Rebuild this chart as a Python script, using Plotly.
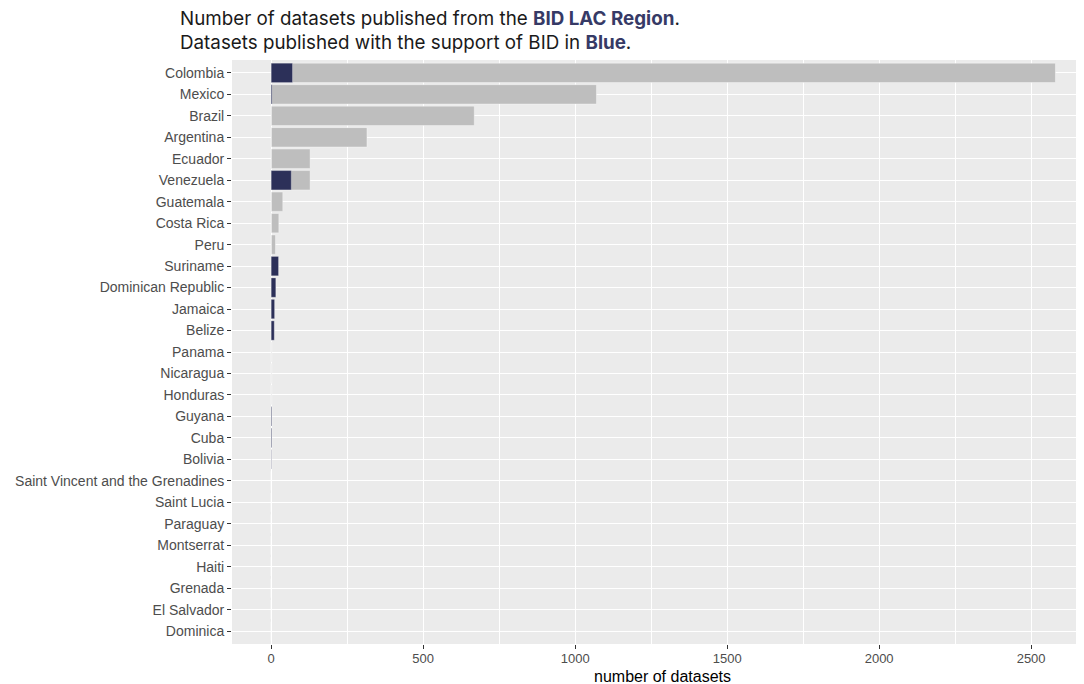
import plotly.graph_objects as go

countries = ["Colombia", "Mexico", "Brazil", "Argentina", "Ecuador", "Venezuela",
             "Guatemala", "Costa Rica", "Peru", "Suriname", "Dominican Republic",
             "Jamaica", "Belize", "Panama", "Nicaragua", "Honduras", "Guyana", "Cuba",
             "Bolivia", "Saint Vincent and the Grenadines", "Saint Lucia", "Paraguay",
             "Montserrat", "Haiti", "Grenada", "El Salvador", "Dominica"]
total_datasets = [2580, 1070, 668, 315, 128, 128, 38, 25, 14, 24, 15, 11, 10,
                  2, 2, 2, 2, 2, 2, 0, 0, 0, 0, 0, 0, 0, 0]
bid_datasets = [70, 3, 0, 0, 0, 66, 0, 0, 0, 24, 15, 11, 10,
                0, 0, 0, 2, 2, 1, 0, 0, 0, 0, 0, 0, 0, 0]
x_ticks = [0, 500, 1000, 1500, 2000, 2500]

GRAY = "#BEBEBE"
BLUE = "#2C3059"

W, H = 1084, 676
ML, MR, MT, MB = 224, 0, 52, 40
PW, PH = W - ML - MR, H - MT - MB
PX_PER_UNIT = 852 / 2803.0
X_MIN = -129
X_MAX = X_MIN + PW / PX_PER_UNIT

fig = go.Figure()
fig.add_trace(go.Bar(y=countries, x=total_datasets, orientation="h", width=0.9,
                     marker=dict(color=GRAY, line=dict(color="rgba(255,255,255,0.45)", width=0.8)),
                     showlegend=False, hoverinfo="x+y"))
fig.add_trace(go.Bar(y=countries, x=bid_datasets, orientation="h", width=0.9,
                     marker=dict(color=BLUE, line=dict(color="rgba(255,255,255,0.35)", width=0.8)),
                     showlegend=False, hoverinfo="x+y"))

n = len(countries)
fig.update_layout(
    width=W, height=H,
    barmode="overlay",
    paper_bgcolor="white",
    plot_bgcolor="#EBEBEB",
    margin=dict(l=ML, r=MR, t=MT, b=MB, autoexpand=False),
    font=dict(family="Liberation Sans, Arial, sans-serif", color="#4D4D4D", size=14),
    xaxis=dict(
        range=[X_MIN, X_MAX],
        tickvals=x_ticks,
        ticktext=[str(v) for v in x_ticks],
        showgrid=True, gridcolor="white", gridwidth=1.3,
        minor=dict(dtick=250, tick0=250, showgrid=True, gridcolor="white", gridwidth=0.6, ticks=""),
        ticks="outside", ticklen=4, tickcolor="#333333", tickwidth=1,
        ticklabelstandoff=-2,
        zeroline=False, showline=False, automargin=False,
        tickfont=dict(family="Liberation Sans Narrow, Arial Narrow, Liberation Sans, sans-serif",
                      size=13, color="#4D4D4D"),
        fixedrange=True,
    ),
    yaxis=dict(
        categoryorder="array", categoryarray=countries,
        range=[n - 1 + 0.6, -0.6],
        showgrid=True, gridcolor="white", gridwidth=1.3,
        ticks="outside", ticklen=4, tickcolor="#333333", tickwidth=1,
        zeroline=False, showline=False, automargin=False,
        tickfont=dict(size=14, color="#4D4D4D"),
        fixedrange=True,
    ),
    annotations=[
        dict(
            text=("Number of datasets published from the <b><span style='color:#363A66'>BID LAC Region</span></b>."
                  "<br>Datasets published with the support of BID in <b><span style='color:#363A66'>Blue</span></b>."),
            font=dict(family="Inter, Noto Sans, sans-serif", size=18.8, color="#1a1a1a"),
            xref="paper", yref="paper",
            x=(170 - ML) / PW, y=1 + (MT + 3) / PH,
            xanchor="left", yanchor="top", align="left", showarrow=False,
        ),
        dict(
            text="number of datasets",
            font=dict(family="Liberation Sans Narrow, Arial Narrow, Liberation Sans, sans-serif",
                      size=16, color="#000000"),
            xref="paper", yref="paper",
            x=(654 - ML) / PW, y=-(668 - (H - MB)) / PH,
            xanchor="center", yanchor="middle", showarrow=False,
        ),
    ],
)

fig.write_html("out.html")
